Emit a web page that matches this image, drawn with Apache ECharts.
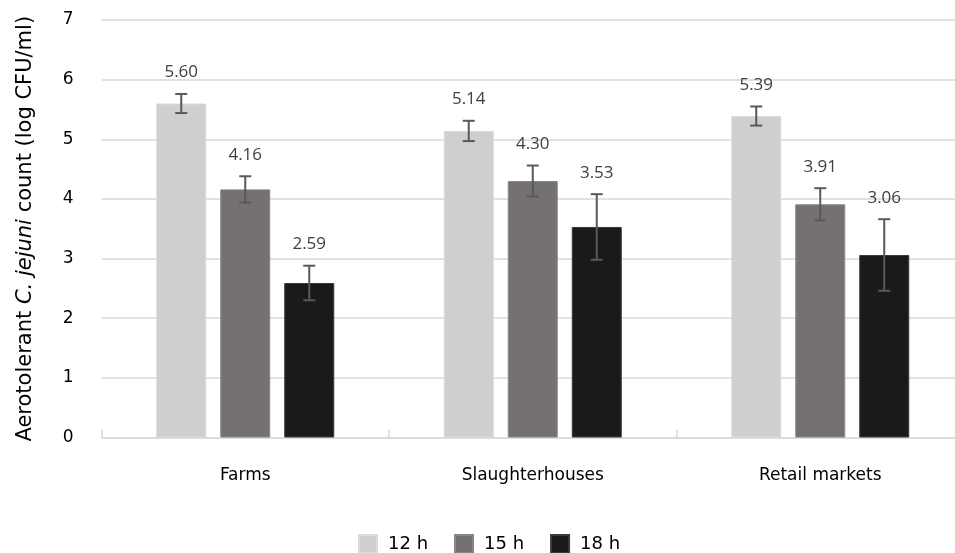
<!DOCTYPE html>
<html><head><meta charset="utf-8">
<script src="https://cdn.jsdelivr.net/npm/echarts@6/dist/echarts.min.js"></script>
<style>html,body{margin:0;padding:0;background:#fff;overflow:hidden;width:955px;height:553px}#c{width:965px;height:553px}</style>
</head><body><div id="c"></div>
<script>
const categories = ['Farms', 'Slaughterhouses', 'Retail markets'];
const seriesNames = ['12 h', '15 h', '18 h'];
const values12 = [5.60, 5.14, 5.39];
const values15 = [4.16, 4.30, 3.91];
const values18 = [2.59, 3.53, 3.06];
const err12 = [0.16, 0.17, 0.16];
const err15 = [0.22, 0.26, 0.27];
const err18 = [0.29, 0.55, 0.60];
const yTicks = [0, 1, 2, 3, 4, 5, 6, 7];

const colors = ['#d0cece', '#767171', '#1a1a1a'];
const borders = ['#dcdada', '#8a8686', '#3a3a3a'];
const allVals = [values12, values15, values18];
const allErr = [err12, err15, err18];
const BW = 50, GAP = 14;

const chart = echarts.init(document.getElementById('c'));
const series = [];
allVals.forEach((vals, i) => {
  series.push({
    name: seriesNames[i], type: 'bar', data: vals, barWidth: BW, barGap: (GAP / BW * 100) + '%',
    itemStyle: { color: colors[i], borderColor: borders[i], borderWidth: 1 },
    z: 2
  });
});
allVals.forEach((vals, i) => {
  series.push({
    type: 'custom', name: seriesNames[i] + ' err', z: 5, silent: true,
    data: vals.map((v, k) => [k, v, v - allErr[i][k], v + allErr[i][k]]),
    renderItem: function (params, api) {
      const off = (i - 1) * (BW + GAP);
      const hi = api.coord([api.value(0), api.value(3)]);
      const lo = api.coord([api.value(0), api.value(2)]);
      const x = hi[0] + off;
      const cw = 6;
      const st = { stroke: '#595959', lineWidth: 2 };
      return { type: 'group', children: [
        { type: 'line', shape: { x1: x, y1: hi[1], x2: x, y2: lo[1] }, style: st },
        { type: 'line', shape: { x1: x - cw, y1: hi[1], x2: x + cw, y2: hi[1] }, style: st },
        { type: 'line', shape: { x1: x - cw, y1: lo[1], x2: x + cw, y2: lo[1] }, style: st },
        { type: 'text', x: x, y: hi[1] - 13, style: { text: api.value(1).toFixed(2), fill: '#404040', font: '17px "Open Sans"', align: 'center', verticalAlign: 'bottom' } }
      ]};
    }
  });
});

chart.setOption({
  animation: false,
  grid: { left: 101.5, right: 1, top: 20, bottom: 115.5 },
  legend: {
    data: seriesNames, top: 529, left: 353, icon: 'rect', itemWidth: 18, itemHeight: 18, itemGap: 26,
    textStyle: { fontSize: 18, color: '#000', fontFamily: 'DejaVu Sans', padding: [0, 0, 0, 6] }
  },
  xAxis: {
    type: 'category', data: categories, boundaryGap: true,
    axisLine: { lineStyle: { color: '#d9d9d9', width: 1.5 } },
    axisTick: { show: true, inside: true, length: 8, lineStyle: { color: '#d9d9d9', width: 1.5 } },
    axisLabel: { margin: 30, fontSize: 17, color: '#000', fontFamily: 'DejaVu Sans' }
  },
  yAxis: {
    type: 'value', min: yTicks[0], max: yTicks[yTicks.length - 1], interval: 1,
    axisLine: { show: false }, axisTick: { show: false },
    splitLine: { lineStyle: { color: '#d9d9d9', width: 1.5 } },
    axisLabel: { margin: 28, fontSize: 17, color: '#000', fontFamily: 'DejaVu Sans', align: 'right' },
    name: '{n|Aerotolerant }{i|C. jejuni}{n| count (log CFU/ml)}',
    nameLocation: 'middle', nameGap: 65, nameRotate: 90,
    nameTextStyle: { rich: {
      n: { fontSize: 21, color: '#000', fontFamily: 'DejaVu Sans' },
      i: { fontSize: 21, color: '#000', fontFamily: 'DejaVu Sans', fontStyle: 'italic' }
    } }
  },
  series: series
});
</script></body></html>
